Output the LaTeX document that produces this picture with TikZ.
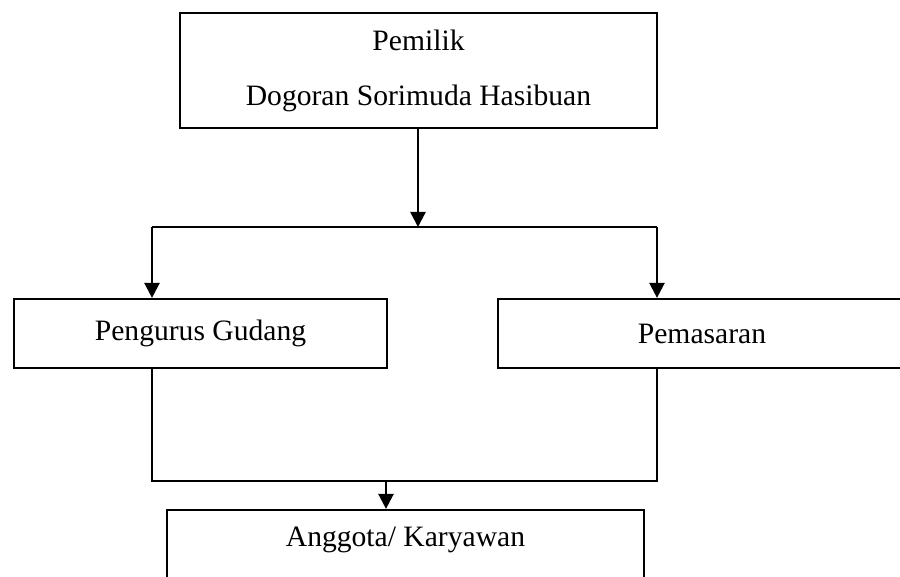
\documentclass[tikz,border=0pt]{standalone}
\usepackage{fontspec}
\setmainfont{Liberation Serif}
\usetikzlibrary{arrows.meta}

\begin{document}
\begin{tikzpicture}[x=0.5pt,y=-0.5pt]

\def\lx{152}
\def\rx{657}
\def\ty{227}
\def\by{481}

\tikzstyle{unit} = [draw,line width=1.1pt,inner sep=0pt,font=\fontsize{14.8}{27.5}\selectfont];
\tikzstyle{link} = [line width=1.2pt,-{Triangle[width=7.5pt,length=7.5pt]}];

\clip (0,0) rectangle (900,577);

\node [unit,minimum width=238.5pt,minimum height=57.5pt,align=center] (owner) at (418.5,70.5) {Pemilik\\Dogoran Sorimuda Hasibuan};

\node [unit,minimum width=186.5pt,minimum height=34.5pt] (gudang) at (200.5,333.5) {Pengurus Gudang};
\node [unit,minimum width=204pt,minimum height=34.5pt] (pemasaran) at (702,333.5) {Pemasaran};

\node [unit,minimum width=238.5pt,minimum height=34.5pt] (anggota) at (405.5,544.5) {};
\node [font=\fontsize{14.8}{17}\selectfont] (anggotalabel) at (405.5,540) {Anggota/ Karyawan};

\coordinate (split) at (418,\ty);
\coordinate (ltop) at (\lx,\ty);
\coordinate (rtop) at (\rx,\ty);
\coordinate (lbot) at (\lx,\by);
\coordinate (rbot) at (\rx,\by);
\coordinate (join) at (386,\by);

% owner down to the two units
\draw [link] (owner.south -| split) -- (split);
\draw [line width=1.2pt] (ltop) -- (rtop);
\draw [link] (ltop) -- (ltop |- gudang.north);
\draw [link] (rtop) -- (rtop |- pemasaran.north);

% both units down to the staff
\draw [line width=1.2pt] (ltop |- gudang.south) -- (lbot) -- (rbot) -- (rtop |- pemasaran.south);
\draw [link] (join) -- (join |- anggota.north);

\end{tikzpicture}
\end{document}
